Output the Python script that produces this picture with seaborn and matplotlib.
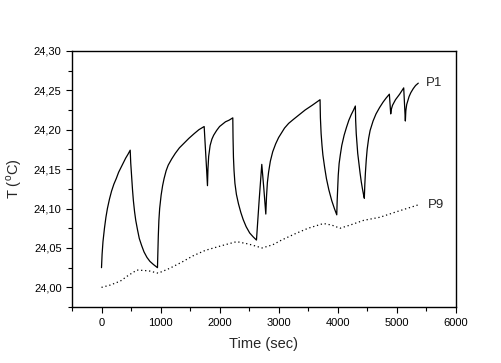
import pandas as pd
import seaborn as sns
import matplotlib.pyplot as plt
from matplotlib.ticker import MultipleLocator, FuncFormatter

# P1 readings (time in sec, temperature in C)
p1_time = [0, 10, 25, 50, 75, 100, 135, 170, 210, 250, 290, 330, 370, 410, 450, 486,
           495, 510, 525, 540, 560, 580, 610, 640, 680, 720, 770, 820, 880, 948,
           955, 962, 972, 985, 1010, 1035, 1060, 1095, 1130, 1190, 1250, 1320, 1400,
           1480, 1570, 1650, 1739,
           1750, 1765, 1780, 1795, 1803, 1815, 1840, 1870, 1900, 1950, 2000, 2100,
           2160, 2224,
           2228, 2235, 2245, 2260, 2285, 2320, 2360, 2400, 2450, 2510, 2570, 2625,
           2670, 2715, 2750, 2783, 2795, 2810, 2830, 2860, 2900, 2950, 3000, 3050,
           3100, 3170, 3250, 3350, 3450, 3570, 3702,
           3708, 3720, 3735, 3750, 3780, 3810, 3850, 3900, 3945, 3985,
           3992, 4000, 4010, 4025, 4045, 4070, 4110, 4150, 4190, 4230, 4270, 4300,
           4305, 4315, 4340, 4360, 4380, 4400, 4420, 4440, 4452,
           4460, 4470, 4485, 4500, 4525, 4550, 4600, 4650, 4710, 4770, 4820, 4876,
           4899, 4910, 4930, 4980, 5050, 5119,
           5147, 5155, 5170, 5210, 5240, 5280, 5320, 5366]
p1_temp = [24.025, 24.042, 24.058, 24.075, 24.089, 24.100, 24.112, 24.122, 24.131,
           24.138, 24.146, 24.152, 24.158, 24.164, 24.169, 24.174,
           24.158, 24.140, 24.124, 24.110, 24.096, 24.085, 24.073, 24.062, 24.053,
           24.045, 24.038, 24.033, 24.029, 24.025,
           24.045, 24.065, 24.085, 24.100, 24.117, 24.129, 24.138, 24.148, 24.155,
           24.163, 24.170, 24.177, 24.183, 24.189, 24.195, 24.200, 24.204,
           24.190, 24.170, 24.150, 24.129, 24.150, 24.166, 24.180, 24.188, 24.193,
           24.199, 24.204, 24.210, 24.212, 24.215,
           24.190, 24.165, 24.148, 24.132, 24.118, 24.106, 24.095, 24.086, 24.077,
           24.069, 24.064, 24.060,
           24.110, 24.156, 24.125, 24.093, 24.115, 24.133, 24.146, 24.160, 24.172,
           24.182, 24.190, 24.196, 24.202, 24.208, 24.213, 24.219, 24.225, 24.231,
           24.238,
           24.215, 24.195, 24.180, 24.168, 24.152, 24.138, 24.124, 24.110, 24.100,
           24.092,
           24.110, 24.125, 24.142, 24.157, 24.168, 24.180, 24.193, 24.203, 24.212,
           24.219, 24.225, 24.230,
           24.212, 24.195, 24.170, 24.157, 24.145, 24.134, 24.125, 24.117, 24.113,
           24.130, 24.145, 24.162, 24.175, 24.189, 24.199, 24.211, 24.220, 24.228,
           24.235, 24.240, 24.245,
           24.220, 24.226, 24.231, 24.238, 24.245, 24.253,
           24.211, 24.224, 24.232, 24.242, 24.247, 24.252, 24.256, 24.259]

# P9 readings
p9_time = [0, 150, 320, 450, 600, 800, 960, 1150, 1360, 1550, 1760, 2040,
           2290, 2490, 2720, 2900, 3050, 3280, 3500, 3760, 3900, 4040, 4210,
           4440, 4720, 5000, 5340, 5366]
p9_temp = [24.000, 24.003, 24.008, 24.015, 24.022, 24.021, 24.018, 24.024,
           24.032, 24.040, 24.047, 24.053, 24.058, 24.055, 24.050, 24.054,
           24.060, 24.068, 24.075, 24.081, 24.079, 24.075, 24.079, 24.085,
           24.089, 24.096, 24.104, 24.105]

df1 = pd.DataFrame({'time': p1_time, 'T': p1_temp})
df9 = pd.DataFrame({'time': p9_time, 'T': p9_temp})

sns.set_style("ticks")
plt.rcParams['font.family'] = ['Liberation Sans', 'DejaVu Sans']
plt.rcParams['mathtext.fontset'] = 'custom'
plt.rcParams['mathtext.rm'] = 'Liberation Sans'

fig = plt.figure(figsize=(5.02, 3.63), dpi=100)
ax = fig.add_axes([0.1434, 0.154, 0.7644, 0.706])

sns.lineplot(data=df1, x='time', y='T', ax=ax, color='black', linewidth=0.9,
             estimator=None, sort=False)
sns.lineplot(data=df9, x='time', y='T', ax=ax, color='black', linewidth=0.9,
             linestyle=(0, (1, 2.2)), estimator=None, sort=False)

ax.text(5500, 24.259, 'P1', fontsize=9.5, va='center', ha='left')
ax.text(5530, 24.105, 'P9', fontsize=9.5, va='center', ha='left')

ax.set_xlim(-500, 6000)
ax.set_ylim(23.975, 24.30)
ax.xaxis.set_major_locator(MultipleLocator(1000))
ax.xaxis.set_minor_locator(MultipleLocator(500))
ax.yaxis.set_major_locator(MultipleLocator(0.05))
ax.yaxis.set_minor_locator(MultipleLocator(0.025))
ax.yaxis.set_major_formatter(FuncFormatter(lambda v, p: f"{v:.2f}".replace('.', ',')))

ax.tick_params(which='major', direction='out', length=4, width=0.8, labelsize=8,
               color='black', labelcolor='black')
ax.tick_params(which='minor', direction='out', length=3, width=0.8, color='black')
ax.tick_params(top=False, right=False, which='both')

for s in ax.spines.values():
    s.set_visible(True)
    s.set_linewidth(1.0)
    s.set_color('black')

ax.set_xlabel('Time (sec)', fontsize=10.5, labelpad=7)
ax.set_ylabel('T ($^{\\mathrm{o}}$C)', fontsize=10.5, labelpad=7)

fig.savefig('out.png', dpi=100)
